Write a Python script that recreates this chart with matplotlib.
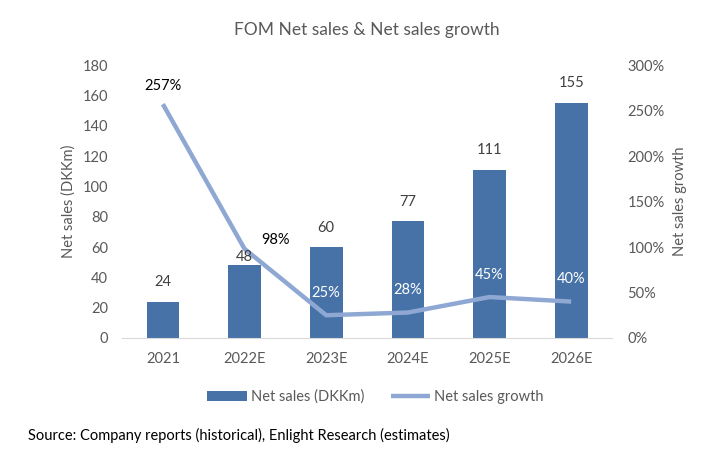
import matplotlib.pyplot as plt

years = ["2021", "2022E", "2023E", "2024E", "2025E", "2026E"]
sales = [24, 48, 60, 77, 111, 155]
growth = [257, 98, 25, 28, 45, 40]
growth_labels = ["257%", "98%", "25%", "28%", "45%", "40%"]

plt.rcParams['font.family'] = ['Lato', 'DejaVu Sans']
grey = '#595959'

fig = plt.figure(figsize=(7.28, 4.62), dpi=100)
ax = fig.add_axes([0.1676, 0.2684, 0.6731, 0.5909])
ax2 = ax.twinx()

x = list(range(len(years)))
bars = ax.bar(x, sales, width=0.4, color='#4672A8', label='Net sales (DKKm)', zorder=2)
line, = ax2.plot(x, growth, color='#8FA8D3', lw=3.2, solid_capstyle='butt',
                 label='Net sales growth', zorder=3)

ax.set_xlim(-0.5, 5.5)
ax.set_ylim(0, 180)
ax.set_yticks(range(0, 181, 20))
ax2.set_ylim(0, 300)
ax2.set_yticks(range(0, 301, 50))
ax2.set_yticklabels([f"{v}%" for v in range(0, 301, 50)])
ax.set_xticks(x)
ax.set_xticklabels(years)

for a in (ax, ax2):
    for s in a.spines.values():
        s.set_visible(False)
    a.tick_params(length=0, colors=grey, labelsize=10.5)
ax.spines['bottom'].set_visible(True)
ax.spines['bottom'].set_color('#D9D9D9')
ax.tick_params(axis='x', pad=10)
ax.tick_params(axis='y', pad=10)
ax2.tick_params(axis='y', pad=11)

ax.set_ylabel("Net sales (DKKm)", color=grey, fontsize=10.5, labelpad=5)
ax2.set_ylabel("Net sales growth", color=grey, fontsize=10.5, labelpad=6)

# bar labels drawn on ax2 so they sit above the line (2022E one sits tight on the bar)
offsets = [9, 1, 9, 9, 9, 9]
for i, v in enumerate(sales):
    ax2.annotate(str(v), (i, v), xycoords=ax.transData, xytext=(0, offsets[i]),
                 textcoords='offset points', ha='center', va='bottom',
                 color='#404040', fontsize=10.5, zorder=5)

# growth labels: first two above in black, rest white on bars
ax2.annotate(growth_labels[0], (0, growth[0]), xytext=(0, 8), textcoords='offset points',
             ha='center', va='bottom', color='black', fontsize=10.5)
ax2.annotate(growth_labels[1], (1, growth[1]), xytext=(22, 6), textcoords='offset points',
             ha='center', va='center', color='black', fontsize=10.5)
for i in range(2, len(growth)):
    ax2.annotate(growth_labels[i], (i, growth[i]), xytext=(0, 11), textcoords='offset points',
                 ha='center', va='bottom', color='white', fontsize=10.5)

fig.text(0.504, 0.935, "FOM Net sales & Net sales growth", ha='center', va='center',
         color=grey, fontsize=12.5)
fig.legend(handles=[bars, line], loc='center', bbox_to_anchor=(0.516, 0.141), ncol=2,
           frameon=False, fontsize=10.5, labelcolor=grey, handlelength=2.7,
           handletextpad=0.3, columnspacing=1.8)
fig.text(0.038, 0.058, "Source: Company reports (historical), Enlight Research (estimates)",
         ha='left', va='center', color='black', fontsize=10.5)

plt.savefig("out.png", dpi=100)
